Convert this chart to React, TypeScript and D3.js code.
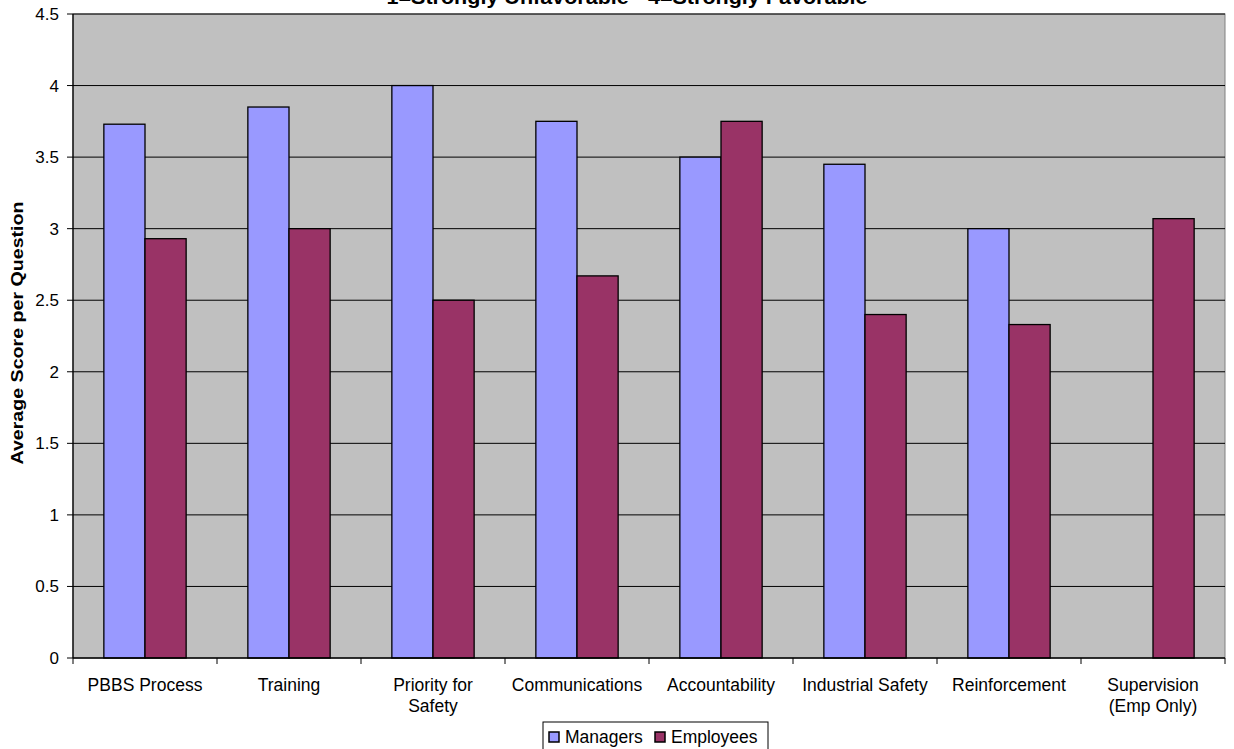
import React from 'react';
import * as d3 from 'd3';

const categories = [
  ['PBBS Process'],
  ['Training'],
  ['Priority for', 'Safety'],
  ['Communications'],
  ['Accountability'],
  ['Industrial Safety'],
  ['Reinforcement'],
  ['Supervision', '(Emp Only)'],
];
const managers: (number | null)[] = [3.73, 3.85, 4.0, 3.75, 3.5, 3.45, 3.0, null];
const employees: (number | null)[] = [2.93, 3.0, 2.5, 2.67, 3.75, 2.4, 2.33, 3.07];
const yTicks = [0, 0.5, 1, 1.5, 2, 2.5, 3, 3.5, 4, 4.5];
const seriesNames = ['Managers', 'Employees'];
const colors = ['#9999FF', '#993366'];

export default function App() {
  const W = 1234, H = 749;
  const left = 73, right = 1225, top = 14, bottom = 658;

  const x = d3.scaleBand<number>()
    .domain(categories.map((_, i) => i))
    .range([left, right])
    .paddingInner(0)
    .paddingOuter(0);
  const y = d3.scaleLinear().domain([0, 4.5]).range([bottom, top]);

  const groupW = x.bandwidth();
  const barW = groupW / 3.5;
  const gap = (groupW - 2 * barW) / 2;
  const series = [managers, employees];

  const font = 'Arial, "Liberation Sans", sans-serif';

  return (
    <svg width={W} height={H} style={{ position: 'absolute', left: 0, top: 0, background: '#fff' }}
      fontFamily={font}>
      <rect x={left} y={top} width={right - left} height={bottom - top} fill="#C0C0C0" stroke="#808080" />
      {yTicks.filter(t => t > 0).map(t => (
        <line key={t} x1={left} x2={right} y1={y(t)} y2={y(t)} stroke="#000" strokeWidth={1} />
      ))}
      {series.map((vals, s) =>
        vals.map((v, i) => v == null ? null : (
          <rect key={`${s}-${i}`}
            x={x(i)! + gap + s * barW}
            y={y(v)}
            width={barW}
            height={y(0) - y(v)}
            fill={colors[s]} stroke="#000" strokeWidth={1.3} />
        ))
      )}
      {/* axes */}
      <line x1={left} x2={left} y1={top} y2={bottom} stroke="#000" strokeWidth={1.3} />
      <line x1={left} x2={right} y1={bottom} y2={bottom} stroke="#000" strokeWidth={1.3} />
      {yTicks.map(t => (
        <g key={t}>
          <line x1={left - 6} x2={left} y1={y(t)} y2={y(t)} stroke="#000" />
          <text x={59} y={y(t)} dy="0.35em" textAnchor="end" fontSize={17}>{t}</text>
        </g>
      ))}
      {categories.map((_, i) => (
        <line key={i} x1={x(i)! + groupW} x2={x(i)! + groupW} y1={bottom} y2={bottom + 6} stroke="#000" />
      ))}
      <line x1={left} x2={left} y1={bottom} y2={bottom + 6} stroke="#000" />
      {categories.map((lines, i) => (
        <text key={i} x={x(i)! + groupW / 2} y={691} textAnchor="middle" fontSize={17.5}>
          {lines.map((l, j) => (
            <tspan key={j} x={x(i)! + groupW / 2} dy={j === 0 ? 0 : 21}>{l}</tspan>
          ))}
        </text>
      ))}
      <text x={627} y={4} textAnchor="middle" fontSize={20} fontWeight="bold"
        textLength={481} lengthAdjust="spacingAndGlyphs">
        1=Strongly Unfavorable - 4=Strongly Favorable
      </text>
      <text transform={`translate(23,333) rotate(-90)`} textAnchor="middle"
        fontSize={17} fontWeight="bold" textLength={263} lengthAdjust="spacingAndGlyphs">Average Score per Question</text>
      {/* legend */}
      <rect x={543} y={722} width={225} height={32} fill="#fff" stroke="#000" />
      {seriesNames.map((n, i) => {
        const lx = i === 0 ? 549 : 655;
        return (
          <g key={n}>
            <rect x={lx} y={732} width={10} height={10} fill={colors[i]} stroke="#000" strokeWidth={1.5} />
            <text x={lx + 16} y={743} fontSize={17.5}>{n}</text>
          </g>
        );
      })}
    </svg>
  );
}
